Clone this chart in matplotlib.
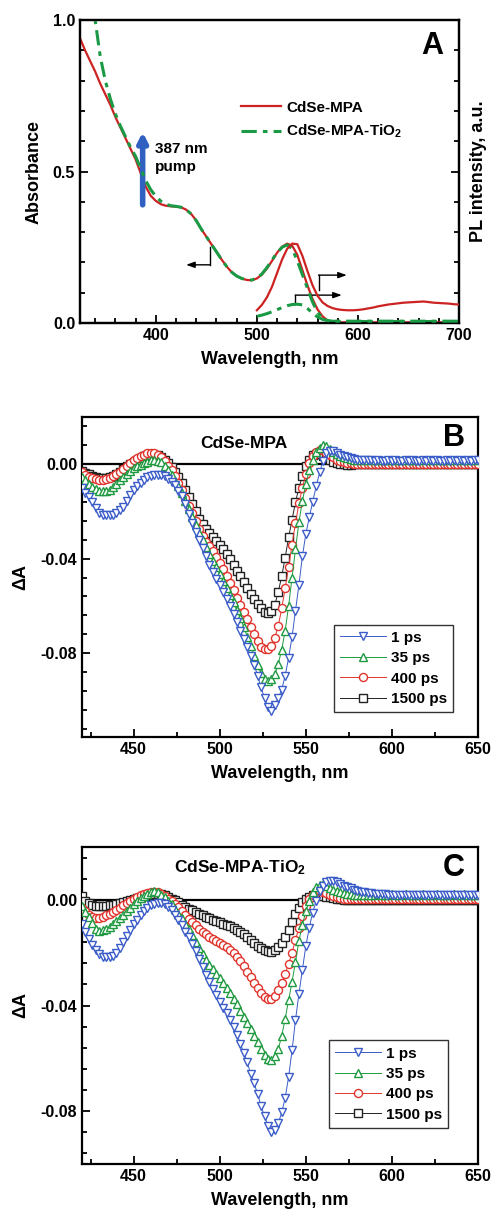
import numpy as np
import matplotlib
matplotlib.use("Agg")
import matplotlib.pyplot as plt
from matplotlib.ticker import MultipleLocator, FormatStrFormatter

plt.rcParams['font.family'] = ['Liberation Sans', 'DejaVu Sans']
plt.rcParams['font.weight'] = 'bold'
plt.rcParams['axes.unicode_minus'] = False
plt.rcParams['mathtext.fontset'] = 'custom'
plt.rcParams['mathtext.bf'] = 'Liberation Sans:bold'
plt.rcParams['mathtext.rm'] = 'Liberation Sans:bold'
plt.rcParams['mathtext.default'] = 'bf'

# ---------------- Panel A data ----------------
abs_wl = np.arange(325, 701, 5)
abs_mpa = [0.94, 0.90, 0.865, 0.83, 0.79, 0.755, 0.72, 0.68, 0.645, 0.61,
           0.575, 0.54, 0.495, 0.45, 0.42, 0.403, 0.392, 0.387, 0.385, 0.384,
           0.382, 0.374, 0.36, 0.338, 0.31, 0.285, 0.26, 0.235, 0.21, 0.187,
           0.168, 0.155, 0.147, 0.142, 0.141, 0.147, 0.16, 0.18, 0.205, 0.232,
           0.252, 0.262, 0.255, 0.225, 0.175, 0.125, 0.08, 0.045, 0.022, 0.008,
           0.002, 0.002, 0.002, 0.002, 0.002, 0.002, 0.002, 0.002, 0.002, 0.002,
           0.002, 0.002, 0.002, 0.002, 0.002, 0.002, 0.002, 0.002, 0.002, 0.002,
           0.002, 0.002, 0.002, 0.002, 0.002, 0.002]
abs_tio2 = [1.20, 1.12, 1.06, 1.00, 0.88, 0.80, 0.74, 0.69, 0.65, 0.615,
            0.58, 0.55, 0.51, 0.47, 0.44, 0.418, 0.402, 0.392, 0.387, 0.385,
            0.382, 0.374, 0.36, 0.338, 0.31, 0.285, 0.26, 0.235, 0.21, 0.187,
            0.168, 0.155, 0.147, 0.142, 0.142, 0.148, 0.162, 0.183, 0.208, 0.232,
            0.25, 0.258, 0.245, 0.205, 0.16, 0.115, 0.07, 0.035, 0.015, 0.008,
            0.006, 0.005, 0.005, 0.005, 0.005, 0.005, 0.005, 0.005, 0.005, 0.005,
            0.005, 0.005, 0.005, 0.005, 0.005, 0.005, 0.005, 0.005, 0.005, 0.005,
            0.005, 0.005, 0.005, 0.005, 0.005, 0.005]
pl_wl = np.arange(500, 701, 5)
pl_mpa = [0.042, 0.06, 0.085, 0.12, 0.165, 0.21, 0.245, 0.262, 0.26, 0.222,
          0.172, 0.125, 0.09, 0.068, 0.056, 0.049, 0.045, 0.043, 0.042, 0.042,
          0.043, 0.045, 0.048, 0.051, 0.055, 0.058, 0.061, 0.063, 0.065, 0.067,
          0.068, 0.069, 0.07, 0.071, 0.069, 0.067, 0.066, 0.065, 0.064, 0.062,
          0.061]
pl_tio2 = [0.022, 0.026, 0.031, 0.037, 0.044, 0.051, 0.057, 0.061, 0.062, 0.06,
           0.048, 0.033, 0.02, 0.012, 0.008, 0.006, 0.006, 0.006, 0.006, 0.006,
           0.006, 0.006, 0.006, 0.006, 0.006, 0.006, 0.006, 0.006, 0.006, 0.006,
           0.006, 0.006, 0.006, 0.006, 0.006, 0.006, 0.006, 0.006, 0.006, 0.006,
           0.006]

# ---------------- Panels B / C data (mOD) ----------------
ta_wl = np.arange(420, 651, 2)
delays = ['1 ps', '35 ps', '400 ps', '1500 ps']

b_1ps = [-10.0, -12.0, -14.0, -16.0, -18.5, -20.5, -21.5, -21.6, -21.5, -21.4,
         -20.5, -19.5, -18.0, -15.5, -13.0, -10.8, -9.3, -7.8, -6.5, -5.6,
         -4.9, -4.5, -4.4, -4.6, -5.1, -6.2, -7.4, -8.8, -11.2, -13.6,
         -17.0, -21.0, -25.0, -28.5, -32.0, -35.5, -39.0, -42.5, -45.5, -48.5,
         -51.3, -54.0, -57.0, -60.0, -63.5, -67.0, -70.5, -74.0, -77.5, -81.0,
         -85.0, -89.5, -94.5, -99.0, -103.0, -104.5, -102.0, -99.0, -95.5, -89.5,
         -82.0, -73.0, -62.0, -51.0, -39.0, -29.5, -22.5, -15.8, -9.4, -3.5,
         1.5, 4.6, 5.6, 5.5, 4.8, 4.1, 3.4, 3.0, 2.6, 2.3,
         2.0, 1.8, 1.7, 1.6, 1.6, 1.5, 1.6, 1.5, 1.5, 1.6,
         1.5, 1.6, 1.5, 1.5, 1.6, 1.5, 1.6, 1.5, 1.5, 1.6,
         1.5, 1.6, 1.5, 1.6, 1.5, 1.5, 1.6, 1.5, 1.6, 1.5,
         1.6, 1.5, 1.6, 1.5, 1.6, 1.6]
b_35ps = [-5.3, -6.8, -8.2, -9.6, -10.6, -11.3, -11.5, -11.3, -10.9, -9.7,
          -8.2, -6.7, -5.5, -4.2, -2.9, -1.7, -0.9, -0.2, 0.5, 1.1,
          1.6, 1.8, 1.5, 0.8, -0.6, -2.6, -4.5, -7.0, -9.4, -12.1,
          -15.4, -18.8, -22.2, -25.6, -29.1, -32.2, -35.1, -38.0, -40.9, -43.7,
          -46.5, -49.4, -52.3, -55.3, -58.5, -61.9, -65.3, -69.0, -73.0, -76.8,
          -81.0, -85.0, -88.5, -91.0, -91.8, -91.0, -89.0, -84.5, -78.5, -70.5,
          -60.0, -48.0, -36.0, -24.5, -15.5, -8.5, -2.6, 1.8, 5.0, 7.0,
          8.1, 7.8, 6.4, 5.2, 4.3, 3.5, 2.9, 2.5, 2.1, 1.9,
          1.8, 1.9, 1.8, 1.9, 2.0, 1.9, 1.8, 1.9, 2.0, 1.9,
          1.9, 2.0, 1.9, 1.8, 1.9, 2.0, 1.9, 1.9, 2.0, 1.9,
          1.9, 2.0, 1.9, 1.8, 1.9, 2.0, 1.9, 2.0, 1.9, 1.9,
          2.0, 1.9, 1.9, 2.0, 1.9, 2.0]
b_400ps = [-3.5, -4.4, -5.3, -6.0, -6.4, -6.6, -6.5, -6.2, -5.9, -5.1,
           -4.2, -3.2, -2.0, -0.8, 0.5, 1.8, 2.6, 3.3, 4.0, 4.6,
           4.9, 4.8, 4.0, 3.0, 1.4, -0.6, -2.5, -5.0, -7.8, -10.8,
           -14.1, -17.5, -20.8, -24.0, -27.5, -30.5, -32.8, -34.8, -36.8, -39.2,
           -41.8, -44.5, -47.3, -50.3, -53.4, -56.6, -59.6, -62.5, -65.5, -69.0,
           -72.0, -75.0, -77.3, -78.4, -78.2, -76.8, -73.5, -68.5, -61.0, -52.5,
           -43.5, -34.0, -25.0, -16.5, -10.0, -4.2, 0.5, 3.3, 5.2, 6.2,
           5.9, 4.9, 4.0, 3.0, 2.0, 1.5, 1.1, 0.7, 0.4, 0.3,
           0.3, 0.2, 0.3, 0.2, 0.3, 0.3, 0.2, 0.3, 0.2, 0.3,
           0.3, 0.2, 0.3, 0.3, 0.2, 0.3, 0.2, 0.3, 0.3, 0.2,
           0.3, 0.2, 0.3, 0.3, 0.2, 0.3, 0.3, 0.2, 0.3, 0.3,
           0.2, 0.3, 0.3, 0.2, 0.3, 0.3]
b_1500ps = [-3.0, -3.6, -4.3, -5.0, -5.6, -5.9, -5.9, -5.8, -5.5, -4.9,
            -4.0, -3.1, -2.0, -0.9, 0.1, 1.1, 1.9, 2.7, 3.3, 3.8,
            3.9, 4.0, 3.9, 3.2, 2.0, 0.6, -1.2, -3.3, -5.5, -8.0,
            -11.0, -14.0, -17.0, -20.0, -23.0, -25.5, -27.5, -29.2, -30.8, -32.5,
            -34.2, -36.0, -38.0, -40.2, -42.5, -45.0, -47.5, -50.0, -52.5, -55.0,
            -57.2, -59.2, -61.0, -62.4, -63.0, -62.0, -59.5, -54.0, -47.5, -39.5,
            -31.0, -23.5, -16.0, -10.0, -5.0, -0.7, 2.0, 3.8, 4.5, 4.4,
            3.5, 2.5, 1.7, 1.1, 0.6, 0.2, 0.0, -0.2, -0.2, -0.1,
            0.0, 0.1, 0.0, 0.1, 0.0, 0.1, 0.1, 0.0, 0.1, 0.0,
            0.1, 0.0, 0.1, 0.0, 0.1, 0.1, 0.0, 0.1, 0.0, 0.1,
            0.0, 0.1, 0.0, 0.1, 0.1, 0.0, 0.1, 0.0, 0.1, 0.0,
            0.1, 0.0, 0.1, 0.0, 0.1, 0.0]

c_1ps = [-9.0, -12.0, -14.8, -17.0, -19.0, -20.5, -21.5, -21.8, -21.7, -21.3,
         -20.2, -18.3, -16.0, -13.8, -11.5, -9.3, -7.5, -5.8, -4.2, -3.0,
         -2.0, -1.5, -1.1, -1.1, -1.7, -2.7, -4.0, -5.6, -7.5, -9.7,
         -12.0, -14.2, -16.6, -19.2, -22.3, -25.4, -28.5, -31.2, -33.6, -36.2,
         -38.5, -40.8, -43.0, -45.3, -48.0, -51.0, -54.5, -58.0, -61.5, -66.0,
         -69.5, -73.5, -78.0, -82.0, -85.5, -88.0, -87.3, -84.5, -80.5, -75.0,
         -67.0, -57.0, -45.5, -35.5, -26.5, -17.5, -10.5, -4.8, -0.4, 3.2,
         5.4, 6.7, 7.2, 7.2, 6.7, 6.0, 5.4, 4.8, 4.3, 3.8,
         3.4, 3.1, 2.8, 2.6, 2.4, 2.3, 2.2, 2.1, 2.1, 2.0,
         2.0, 1.9, 2.0, 1.9, 2.0, 1.9, 1.9, 2.0, 1.9, 2.0,
         1.9, 2.0, 1.9, 1.9, 2.0, 1.9, 2.0, 1.9, 1.9, 2.0,
         1.9, 2.0, 1.9, 2.0, 1.9, 1.9]
c_35ps = [-2.5, -4.5, -6.5, -8.8, -11.0, -11.8, -11.6, -11.2, -10.3, -9.3,
          -8.2, -7.0, -5.7, -4.4, -3.1, -1.7, -0.4, 0.6, 1.5, 2.3,
          2.9, 3.2, 2.9, 2.0, 1.0, -0.3, -1.7, -3.4, -5.2, -7.0,
          -9.0, -11.2, -13.4, -15.8, -18.3, -20.6, -22.7, -24.7, -26.3, -27.9,
          -29.5, -31.3, -33.2, -35.2, -37.4, -39.6, -42.0, -44.3, -46.5, -48.8,
          -51.5, -54.0, -56.5, -58.7, -60.2, -60.5, -59.3, -56.5, -51.5, -45.0,
          -38.0, -31.0, -23.5, -15.5, -9.5, -4.4, -0.5, 2.8, 4.8, 5.8,
          6.0, 5.4, 4.6, 3.9, 3.3, 2.9, 2.6, 2.3, 2.1, 1.9,
          1.9, 2.0, 1.9, 2.0, 1.9, 2.0, 2.1, 2.0, 1.9, 2.0,
          2.1, 2.0, 1.9, 2.0, 2.1, 2.0, 2.0, 1.9, 2.0, 2.1,
          2.0, 1.9, 2.0, 2.1, 2.0, 2.0, 1.9, 2.0, 2.1, 2.0,
          2.0, 2.1, 2.0, 1.9, 2.0, 2.0]
c_400ps = [-3.2, -4.3, -5.6, -6.4, -6.7, -6.7, -6.4, -5.9, -5.3, -4.6,
           -3.8, -3.0, -2.1, -1.2, -0.3, 0.5, 1.2, 1.8, 2.3, 2.7,
           3.0, 3.1, 2.9, 2.3, 1.5, 0.5, -0.5, -1.6, -2.9, -4.3,
           -5.8, -7.2, -8.5, -9.7, -10.9, -12.0, -13.0, -13.9, -14.8, -15.6,
           -16.4, -17.2, -18.0, -19.0, -20.2, -21.7, -23.3, -25.2, -27.2, -29.3,
           -31.3, -33.3, -35.2, -36.6, -37.4, -37.4, -36.3, -34.3, -31.5, -28.0,
           -24.3, -20.0, -15.2, -10.5, -6.3, -2.5, 0.3, 2.0, 2.9, 3.2,
           3.0, 2.5, 1.9, 1.4, 1.0, 0.7, 0.5, 0.4, 0.3, 0.3,
           0.3, 0.2, 0.3, 0.2, 0.3, 0.3, 0.2, 0.3, 0.2, 0.3,
           0.3, 0.2, 0.3, 0.3, 0.2, 0.3, 0.2, 0.3, 0.3, 0.2,
           0.3, 0.2, 0.3, 0.3, 0.2, 0.3, 0.3, 0.2, 0.3, 0.3,
           0.2, 0.3, 0.3, 0.2, 0.3, 0.3]
c_1500ps = [1.5, -0.3, -1.3, -1.9, -2.2, -2.3, -2.3, -2.2, -2.0, -1.8,
            -1.5, -1.1, -0.7, -0.3, 0.1, 0.5, 0.8, 1.1, 1.4, 1.7,
            2.0, 2.2, 2.3, 2.2, 1.8, 1.2, 0.5, -0.2, -1.0, -1.8,
            -2.6, -3.3, -4.0, -4.7, -5.3, -5.9, -6.5, -7.0, -7.5, -8.0,
            -8.5, -9.0, -9.5, -10.0, -10.6, -11.3, -12.1, -13.0, -14.0, -15.2,
            -16.3, -17.3, -18.2, -18.9, -19.5, -19.6, -19.1, -18.0, -16.3, -14.0,
            -11.3, -8.5, -5.5, -3.0, -1.0, 0.4, 1.2, 1.7, 1.8, 1.7,
            1.5, 1.2, 0.9, 0.6, 0.4, 0.2, 0.1, 0.1, 0.0, 0.1,
            0.0, 0.1, 0.0, 0.1, 0.0, 0.1, 0.1, 0.0, 0.1, 0.0,
            0.1, 0.0, 0.1, 0.0, 0.1, 0.1, 0.0, 0.1, 0.0, 0.1,
            0.0, 0.1, 0.0, 0.1, 0.1, 0.0, 0.1, 0.0, 0.1, 0.0,
            0.1, 0.0, 0.1, 0.0, 0.1, 0.0]

# ---------------- styling ----------------
RED_A = '#cc2222'
GREEN_A = '#1a9a45'
ta_colors = ['#3a5cc8', '#1f9a40', '#e0342c', '#222222']
ta_markers = ['v', '^', 'o', 's']
TICK_FS = 11.5
LABEL_FS = 13

fig = plt.figure(figsize=(4.92, 12.18), dpi=100)


def style_axes(ax):
    for sp in ax.spines.values():
        sp.set_linewidth(1.6)
    ax.tick_params(which='both', direction='in', width=1.3, labelsize=TICK_FS,
                   top=False, right=False)
    ax.tick_params(which='major', length=6)
    ax.tick_params(which='minor', length=3.5)
    for lab in ax.get_xticklabels() + ax.get_yticklabels():
        lab.set_fontweight('bold')


# ---------------- Panel A ----------------
axA = fig.add_axes([80 / 492, 1 - 323 / 1218, 379 / 492, 303 / 1218])
axA.plot(abs_wl, abs_mpa, color=RED_A, lw=1.6, label='CdSe-MPA', zorder=3)
axA.plot(abs_wl, abs_tio2, color=GREEN_A, lw=2.2, ls=(0, (5, 2, 1.5, 2)),
         label='CdSe-MPA-TiO$_2$', zorder=4)
axA.set_xlim(325, 700)
axA.set_ylim(0, 1.0)
axA.xaxis.set_major_locator(MultipleLocator(100))
axA.xaxis.set_minor_locator(MultipleLocator(20))
axA.yaxis.set_major_locator(MultipleLocator(0.5))
axA.yaxis.set_minor_locator(MultipleLocator(0.1))
axA.yaxis.set_major_formatter(FormatStrFormatter('%.1f'))
axA.set_xlabel('Wavelength, nm', fontsize=LABEL_FS, fontweight='bold', labelpad=6)
axA.set_ylabel('Absorbance', fontsize=LABEL_FS, fontweight='bold', labelpad=7)
style_axes(axA)

axA2 = axA.twinx()
axA2.plot(pl_wl, pl_mpa, color=RED_A, lw=1.6, zorder=3)
axA2.plot(pl_wl, pl_tio2, color=GREEN_A, lw=2.2, ls=(0, (5, 2, 1.5, 2)), zorder=4)
axA2.set_ylim(0, 1.0)
axA2.yaxis.set_major_locator(MultipleLocator(0.5))
axA2.yaxis.set_minor_locator(MultipleLocator(0.1))
axA2.tick_params(which='both', direction='in', width=1.3, labelright=False)
axA2.tick_params(which='major', length=6)
axA2.tick_params(which='minor', length=3.5)
axA2.set_ylabel('PL intensity, a.u.', fontsize=LABEL_FS, fontweight='bold', labelpad=8)
for sp in axA2.spines.values():
    sp.set_linewidth(1.6)

legA = axA.legend(loc='center left', bbox_to_anchor=(0.425, 0.668), frameon=False,
                  fontsize=11, handlelength=2.6, handletextpad=0.35,
                  labelspacing=0.55, borderpad=0, borderaxespad=0)
for t in legA.get_texts():
    t.set_fontweight('bold')

axA.text(0.93, 0.915, 'A', transform=axA.transAxes, fontsize=22,
         fontweight='bold', ha='center', va='center')
axA.annotate('', xy=(387, 0.63), xytext=(387, 0.39),
             arrowprops=dict(arrowstyle='-|>,head_length=0.55,head_width=0.28',
                             lw=4.0, color='#3060c0', shrinkA=0, shrinkB=0))
axA.text(399, 0.545, '387 nm\npump', fontsize=11, fontweight='bold',
         ha='left', va='center', linespacing=1.35)

# bent arrows (axis indicators)
arrow_kw = dict(arrowstyle='-|>,head_length=0.5,head_width=0.18', lw=1.0,
                color='black', shrinkA=0, shrinkB=0)
axA.plot([454, 454], [0.252, 0.192], color='black', lw=1.0)
axA.annotate('', xy=(430, 0.192), xytext=(454, 0.192), arrowprops=arrow_kw)
axA.plot([561, 561], [0.108, 0.158], color='black', lw=1.0)
axA.annotate('', xy=(589, 0.158), xytext=(561, 0.158), arrowprops=arrow_kw)
axA.plot([538, 538], [0.064, 0.092], color='black', lw=1.0)
axA.annotate('', xy=(584, 0.092), xytext=(538, 0.092), arrowprops=arrow_kw)


# ---------------- Panels B and C ----------------
def ta_panel(rect, series, ylim, inset_text, inset_xy, letter, leg_anchor):
    ax = fig.add_axes(rect)
    ax.axhline(0, color='black', lw=1.6, zorder=1)
    order = [3, 2, 1, 0]
    lines = {}
    for i in order:
        y = np.array(series[i]) / 1000.0
        ln, = ax.plot(ta_wl, y, color=ta_colors[i], lw=0.7, marker=ta_markers[i],
                      ms=5.8, mfc='white', mec=ta_colors[i], mew=1.0,
                      label=delays[i], zorder=2 + (4 - i))
        lines[i] = ln
    ax.set_xlim(420, 650)
    ax.set_ylim(*ylim)
    ax.xaxis.set_major_locator(MultipleLocator(50))
    ax.xaxis.set_minor_locator(MultipleLocator(25))
    ax.yaxis.set_major_locator(MultipleLocator(0.04))
    ax.yaxis.set_minor_locator(MultipleLocator(0.008))
    ax.yaxis.set_major_formatter(FormatStrFormatter('%.2f'))
    ax.set_xlabel('Wavelength, nm', fontsize=LABEL_FS, fontweight='bold', labelpad=6)
    ax.set_ylabel('ΔA', fontsize=LABEL_FS, fontweight='bold', labelpad=8)
    style_axes(ax)
    ax.text(inset_xy[0], inset_xy[1], inset_text, fontsize=12.5,
            fontweight='bold', ha='center', va='center', zorder=10)
    ax.text(0.94, 0.935, letter, transform=ax.transAxes, fontsize=22,
            fontweight='bold', ha='center', va='center', zorder=10)
    leg = ax.legend([lines[i] for i in range(4)], delays, loc='lower right',
                    bbox_to_anchor=leg_anchor, fontsize=11, frameon=True,
                    fancybox=False, edgecolor='black', handlelength=3.0,
                    handletextpad=0.3, labelspacing=0.42, borderpad=0.4,
                    borderaxespad=0)
    leg.get_frame().set_linewidth(1.0)
    leg.set_zorder(20)
    for t in leg.get_texts():
        t.set_fontweight('bold')
    return ax


axB = ta_panel([82 / 492, 1 - 737 / 1218, 396 / 492, 320 / 1218],
               [b_1ps, b_35ps, b_400ps, b_1500ps], (-0.1155, 0.02),
               'CdSe-MPA', (514, 0.0089), 'B', (0.937, 0.078))
axC = ta_panel([82 / 492, 1 - 1164 / 1218, 396 / 492, 317 / 1218],
               [c_1ps, c_35ps, c_400ps, c_1500ps], (-0.10, 0.02),
               'CdSe-MPA-TiO$_2$', (512, 0.0122), 'C', (0.924, 0.114))

fig.savefig('out.png', dpi=100)
